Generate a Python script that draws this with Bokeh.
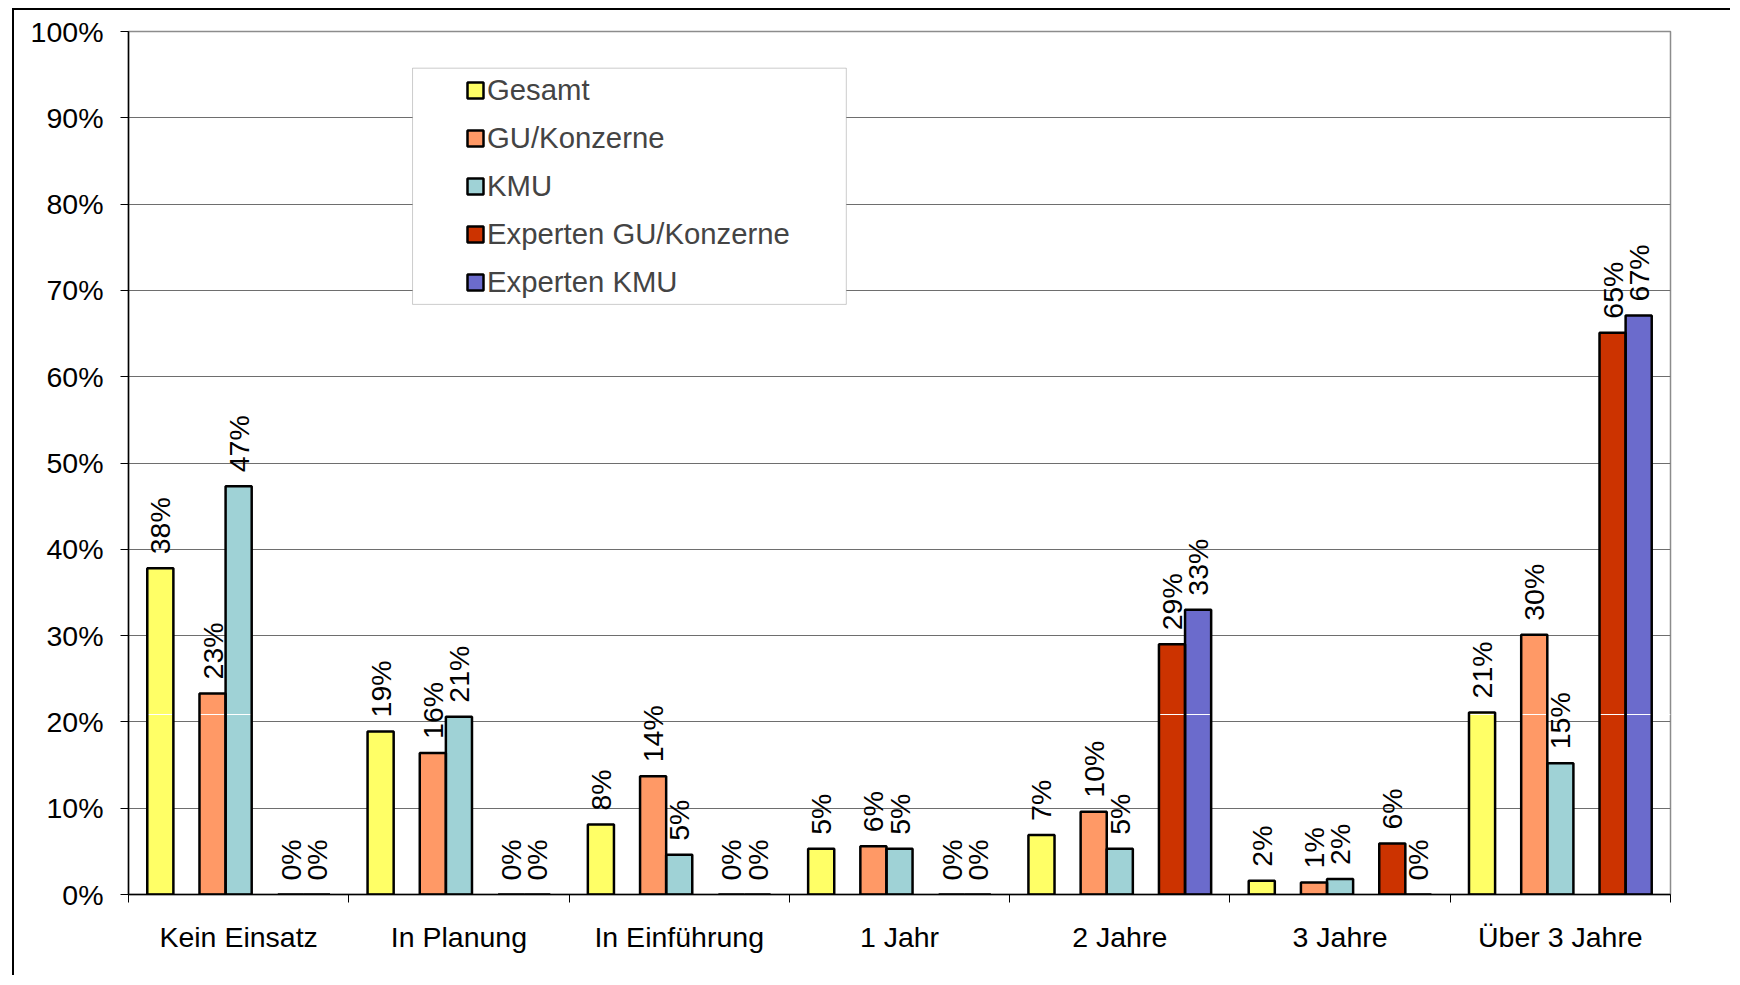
import math
from bokeh.plotting import figure
from bokeh.models import Range1d, FixedTicker, Legend, LegendItem, BoxAnnotation
from bokeh.core.properties import value
from bokeh.embed import file_html
from bokeh.resources import INLINE

# ---- data ----
categories = ["Kein Einsatz", "In Planung", "In Einführung", "1 Jahr",
              "2 Jahre", "3 Jahre", "Über 3 Jahre"]
series_names = ["Gesamt", "GU/Konzerne", "KMU", "Experten GU/Konzerne", "Experten KMU"]
gesamt = [37.8, 18.9, 8.1, 5.3, 6.9, 1.6, 21.1]
gu_konzerne = [23.3, 16.4, 13.7, 5.6, 9.6, 1.4, 30.1]
kmu = [47.3, 20.6, 4.6, 5.3, 5.3, 1.8, 15.2]
experten_gu = [0, 0, 0, 0, 29.0, 5.9, 65.1]
experten_kmu = [0, 0, 0, 0, 33.0, 0, 67.1]
y_ticks = list(range(0, 101, 10))
y_tick_labels = [f"{t}%" for t in y_ticks]

# ---- styles ----
series_values = [gesamt, gu_konzerne, kmu, experten_gu, experten_kmu]
colors = ["#FFFF66", "#FF9966", "#9FD2D6", "#CC3300", "#6B6BCC"]
slots = [0, 2, 3, 5, 6]      # slot positions inside each group (7 slots)
SLOT = 0.1185
BAR_W = 0.1185
FONT = "Liberation Sans"
FS = "28.5px"

p = figure(frame_width=1542, frame_height=863,
           x_range=Range1d(0, 7), y_range=Range1d(0, 100),
           output_backend="svg", toolbar_location=None,
           min_border_left=114, min_border_right=60,
           min_border_top=21, min_border_bottom=81)
p.styles = {"border-left": "2px solid black", "border-top": "2px solid black",
            "margin-left": "12px", "margin-top": "8px"}
p.background_fill_color = "white"
p.border_fill_color = "white"
p.outline_line_color = "#8c8c8c"
p.outline_line_width = 1.5

# axes
xa = p.xaxis[0]
xa.ticker = FixedTicker(ticks=[i + 0.5 for i in range(len(categories))],
                        minor_ticks=list(range(len(categories) + 1)))
xa.major_label_overrides = {i + 0.5: c for i, c in enumerate(categories)}
xa.major_tick_line_color = None
xa.major_tick_out = 0
xa.major_tick_in = 0
xa.minor_tick_out = 8
xa.minor_tick_in = 0
xa.minor_tick_line_color = "black"
xa.axis_line_color = "black"
xa.axis_line_width = 1.5
xa.major_label_standoff = 18
xa.major_label_text_font = FONT
xa.major_label_text_font_size = FS
xa.major_label_text_color = "black"

ya = p.yaxis[0]
ya.ticker = FixedTicker(ticks=y_ticks)
ya.major_label_overrides = {t: l for t, l in zip(y_ticks, y_tick_labels)}
ya.minor_tick_line_color = None
ya.major_tick_out = 8
ya.major_tick_in = 0
ya.major_tick_line_color = "black"
ya.axis_line_color = "black"
ya.axis_line_width = 1.5
ya.major_label_standoff = 17
ya.major_label_text_font = FONT
ya.major_label_text_font_size = FS
ya.major_label_text_color = "black"

p.xgrid.visible = False
p.ygrid.grid_line_color = "#6e6e6e"
p.ygrid.grid_line_width = 1

# bars (fill), artifact line, outlines
fill_rs, line_rs = [], []
for vals, col, s in zip(series_values, colors, slots):
    xs = [i + 0.5 + (s - 3) * SLOT for i in range(len(categories))]
    r = p.vbar(x=xs, top=vals, bottom=0, width=BAR_W, fill_color=col, line_color=None)
    fill_rs.append(r)

p.hspan(y=[20.85], line_color="white", line_width=1)

for vals, col, s in zip(series_values, colors, slots):
    xs = [i + 0.5 + (s - 3) * SLOT for i in range(len(categories))]
    r = p.vbar(x=xs, top=vals, bottom=0, width=BAR_W, fill_alpha=0,
               line_color="black", line_width=2.5)
    line_rs.append(r)

# value labels
for vals, s in zip(series_values, slots):
    xs = [i + 0.5 + (s - 3) * SLOT for i in range(len(categories))]
    labels = [f"{int(v + 0.5)}%" for v in vals]
    p.text(x=xs, y=vals, text=labels, angle=math.pi / 2,
           text_align="left", text_baseline="middle", y_offset=-14,
           text_font=value(FONT), text_font_size=FS, text_color="black")

# legend frame
p.add_layout(BoxAnnotation(left=1.2894, right=3.2586, bottom=68.38, top=95.75,
                           fill_color="white", fill_alpha=1,
                           line_color="#555555", line_width=1))

items = [LegendItem(label=n, renderers=[f, l])
         for n, f, l in zip(series_names, fill_rs, line_rs)]
legend = Legend(items=items, location=(337, 595), padding=0, spacing=14,
                glyph_width=20, glyph_height=20, label_height=33,
                label_standoff=2, label_text_font=FONT, label_text_font_size="29.3px",
                border_line_color=None, background_fill_alpha=0, margin=0)
p.add_layout(legend)

open("out.html", "w").write(file_html(p, INLINE))
